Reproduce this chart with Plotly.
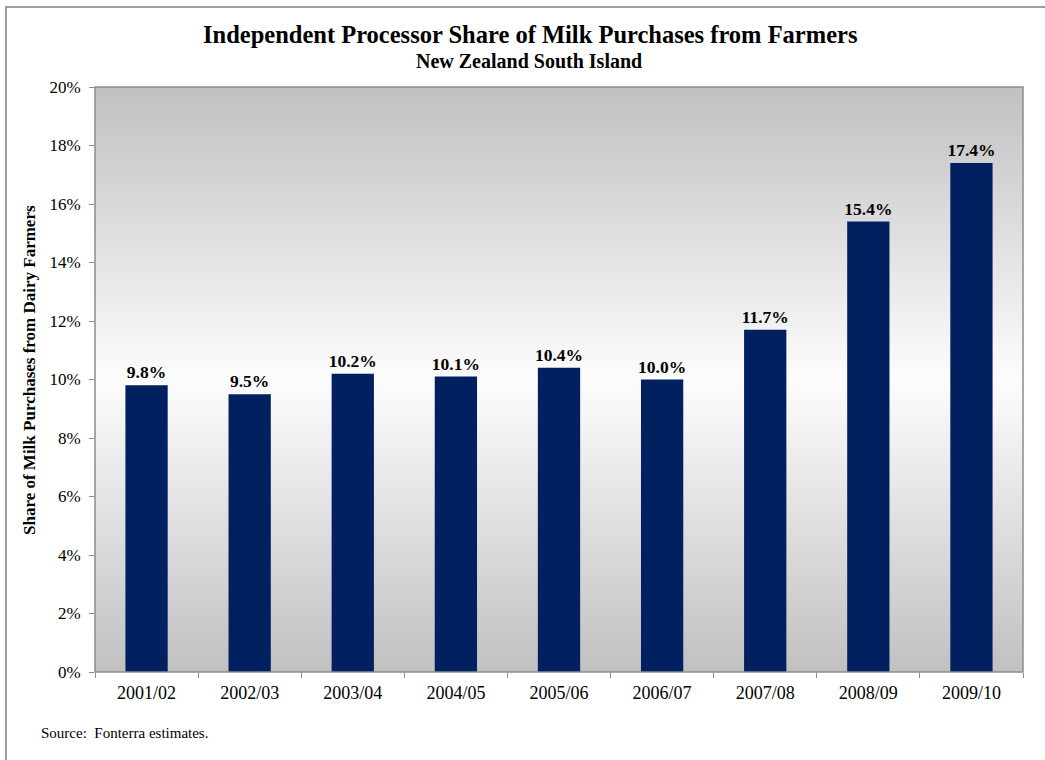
import plotly.graph_objects as go

seasons = ["2001/02", "2002/03", "2003/04", "2004/05", "2005/06",
           "2006/07", "2007/08", "2008/09", "2009/10"]
share = [0.098, 0.095, 0.102, 0.101, 0.104, 0.100, 0.117, 0.154, 0.174]

FONT = "Liberation Serif, Times New Roman, serif"
W, H = 1045, 760
L, R, T, B = 95, 22, 87, 88
pw, ph = W - L - R, H - T - B

def px_x(x):
    return (x - L) / pw

def px_y(y):
    return (H - B - y) / ph

fig = go.Figure()
fig.add_trace(go.Bar(
    x=seasons, y=share, width=0.41,
    marker=dict(color="#002060", line=dict(width=0)),
    texttemplate="<b>%{y:.1%}</b>", textposition="outside",
    constraintext="none",
    textfont=dict(family=FONT, size=17.5, color="black"),
    cliponaxis=False, hoverinfo="skip",
))

shapes = []
# gradient background: gray -> white -> gray
N = 120
for i in range(N):
    t = (i + 0.5) / N
    d = abs(t - 0.5) / 0.5
    v = int(round(253 - (253 - 192) * d))
    c = f"rgb({v},{v},{v})"
    shapes.append(dict(type="rect", xref="paper", yref="paper",
                       x0=0, x1=1, y0=i / N, y1=min(1, (i + 1.8) / N),
                       fillcolor=c, line=dict(width=0), layer="below"))
# plot border
shapes.append(dict(type="rect", xref="paper", yref="paper", x0=0, x1=1, y0=0, y1=1,
                   line=dict(color="#8c8c8c", width=1.5), fillcolor="rgba(0,0,0,0)"))
# outer frame
shapes.append(dict(type="rect", xref="paper", yref="paper",
                   x0=px_x(6), x1=px_x(1060), y0=px_y(775), y1=px_y(7),
                   line=dict(color="#7f7f7f", width=1.5), fillcolor="rgba(0,0,0,0)"))

annotations = [
    dict(text="<b>Independent Processor Share of Milk Purchases from Farmers</b>",
         x=px_x(530), y=px_y(34), xref="paper", yref="paper", showarrow=False,
         font=dict(family=FONT, size=24.5, color="black"), xanchor="center", yanchor="middle"),
    dict(text="<b>New Zealand South Island</b>",
         x=px_x(529), y=px_y(61), xref="paper", yref="paper", showarrow=False,
         font=dict(family=FONT, size=20, color="black"), xanchor="center", yanchor="middle"),
    dict(text="Source:  Fonterra estimates.",
         x=px_x(39), y=px_y(733), xref="paper", yref="paper", showarrow=False,
         font=dict(family=FONT, size=15, color="black"), xanchor="left", yanchor="middle"),
    dict(text="<b>Share of Milk Purchases from Dairy Farmers</b>",
         x=px_x(30), y=px_y(370), xref="paper", yref="paper", showarrow=False,
         textangle=-90,
         font=dict(family=FONT, size=17, color="black"), xanchor="center", yanchor="middle"),
]

fig.update_layout(
    width=W, height=H,
    margin=dict(l=L, r=R, t=T, b=B),
    paper_bgcolor="white", plot_bgcolor="white",
    showlegend=False, bargap=0.59,
    shapes=shapes, annotations=annotations,
    xaxis=dict(type="category", tickson="boundaries", ticks="outside", ticklen=5,
               tickcolor="#8c8c8c", showline=False, showgrid=False,
               ticklabelstandoff=8,
               tickfont=dict(family=FONT, size=18, color="black")),
    yaxis=dict(range=[0, 0.20], dtick=0.02, tickformat=".0%", ticks="outside",
               ticklen=5, tickcolor="#8c8c8c", showgrid=False, showline=False,
               zeroline=False, ticklabelstandoff=5,
               tickfont=dict(family=FONT, size=17, color="black")),
)

fig.write_html("out.html")
